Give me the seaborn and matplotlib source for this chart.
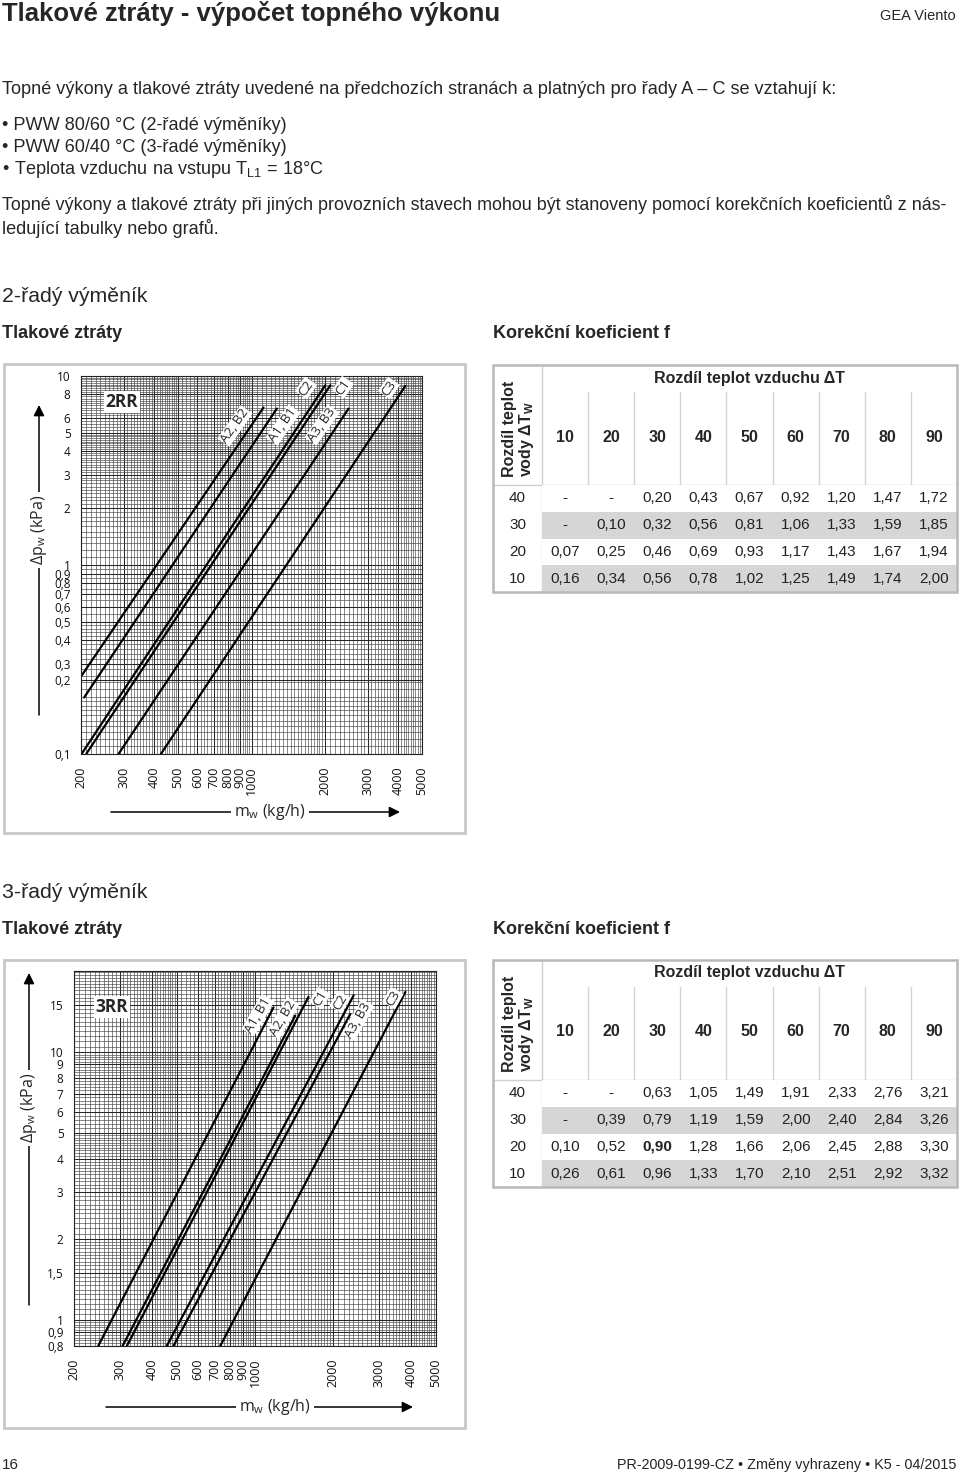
# %% Import libraries
import numpy as np
import pandas as pd
import matplotlib
matplotlib.use('Agg')
import matplotlib.pyplot as plt
import seaborn as sns
from matplotlib.colors import ListedColormap
from matplotlib.patches import Rectangle
from matplotlib.ticker import NullFormatter

sns.set_theme(style='white')
plt.rcParams['font.family'] = ['Liberation Sans', 'DejaVu Sans']

# %% Data
# pressure drop lines, 2-row exchanger (start / end point of each straight line)
curves_2rr = ['A2, B2', 'A1, B1', 'C2', 'C1', 'A3, B3', 'C3']
mw_start_2rr = [200, 206, 201, 210, 285, 425]
mw_end_2rr = [1120, 1271, 2006, 2104, 2502, 4272]
dp_start_2rr = [0.257, 0.199, 0.1, 0.1, 0.1, 0.1]
dp_end_2rr = [6.81, 6.73, 8.93, 8.93, 6.73, 8.86]

# pressure drop lines, 3-row exchanger
curves_3rr = ['A1, B1', 'A2, B2', 'C1', 'C2', 'A3, B3', 'C3']
mw_start_3rr = [248, 308, 320, 456, 484, 734]
mw_end_3rr = [1179, 1430, 1610, 2404, 2334, 3809]
dp_start_3rr = [0.8, 0.8, 0.8, 0.8, 0.8, 0.8]
dp_end_3rr = [14.7, 13.7, 16.1, 16.3, 13.9, 16.8]

x_ticks = [200, 300, 400, 500, 600, 700, 800, 900, 1000, 2000, 3000, 4000, 5000]
x_labels = [str(v) for v in x_ticks]
y_ticks_2rr = [0.1, 0.245, 0.3, 0.4, 0.5, 0.6, 0.7, 0.8, 0.9, 1, 2, 3, 4, 5, 6, 8, 10]
y_labels_2rr = ['0,1', '0,2', '0,3', '0,4', '0,5', '0,6', '0,7', '0,8', '0,9',
                '1', '2', '3', '4', '5', '6', '8', '10']
y_ticks_3rr = [0.8, 0.9, 1, 1.5, 2, 3, 4, 5, 6, 7, 8, 9, 10, 15]
y_labels_3rr = ['0,8', '0,9', '1', '1,5', '2', '3', '4', '5', '6', '7', '8', '9', '10', '15']

# correction factor tables
dT_air = ['10', '20', '30', '40', '50', '60', '70', '80', '90']
dT_water = ['40', '30', '20', '10']
f_2rr = [['-', '-', '0,20', '0,43', '0,67', '0,92', '1,20', '1,47', '1,72'],
         ['-', '0,10', '0,32', '0,56', '0,81', '1,06', '1,33', '1,59', '1,85'],
         ['0,07', '0,25', '0,46', '0,69', '0,93', '1,17', '1,43', '1,67', '1,94'],
         ['0,16', '0,34', '0,56', '0,78', '1,02', '1,25', '1,49', '1,74', '2,00']]
f_3rr = [['-', '-', '0,63', '1,05', '1,49', '1,91', '2,33', '2,76', '3,21'],
         ['-', '0,39', '0,79', '1,19', '1,59', '2,00', '2,40', '2,84', '3,26'],
         ['0,10', '0,52', '0,90', '1,28', '1,66', '2,06', '2,45', '2,88', '3,30'],
         ['0,26', '0,61', '0,96', '1,33', '1,70', '2,10', '2,51', '2,92', '3,32']]

# %% Page setup (pixel coordinates, y downwards)
W, H = 960, 1477
fig = plt.figure(figsize=(W / 100, H / 100), dpi=100)
page = fig.add_axes([0, 0, 1, 1])
page.set_xlim(0, W)
page.set_ylim(H, 0)
page.axis('off')


def fig_box(x0, y0, x1, y1):
    return [x0 / W, 1 - y1 / H, (x1 - x0) / W, (y1 - y0) / H]


def txt(x, y, s, **kw):
    kw.setdefault('va', 'center')
    page.text(x, y, s, **kw)


def log_grid(pieces):
    return np.concatenate([np.arange(a, b, s) for a, b, s in pieces])


x_grid = log_grid([(200, 500, 10), (500, 1000, 20), (1000, 2000, 50), (2000, 5001, 100)])


def draw_chart(box, names, x0, x1, y0, y1, ylim, yticks, ylabels, ygrid,
               tag, tag_xy, label_xy, rot, ylab, xlab):
    frame, plot = box
    fig.add_artist(Rectangle((frame[0], frame[1]), frame[2] - frame[0], frame[3] - frame[1],
                             fill=False, ec='#c8c8c8', lw=2, transform=page.transData, zorder=0.5))
    ax = fig.add_axes(fig_box(*plot))
    rows = []
    for n, a, b, c, d in zip(names, x0, x1, y0, y1):
        rows += [(n, a, c), (n, b, d)]
    df = pd.DataFrame(rows, columns=['curve', 'mw', 'dp'])
    ax.set_xscale('log')
    ax.set_yscale('log')
    sns.lineplot(data=df, x='mw', y='dp', units='curve', estimator=None,
                 color='black', linewidth=1.6, ax=ax, legend=False)
    ax.set_xlim(200, 5000)
    ax.set_ylim(*ylim)
    ax.set_xticks(x_grid, minor=True)
    ax.set_yticks(ygrid, minor=True)
    ax.xaxis.set_minor_formatter(NullFormatter())
    ax.yaxis.set_minor_formatter(NullFormatter())
    ax.set_xticks(x_ticks, labels=x_labels)
    ax.set_yticks(yticks, labels=ylabels)
    ax.grid(which='minor', color='#444444', lw=0.45)
    ax.grid(which='major', color='#262626', lw=0.75)
    ax.tick_params(which='minor', length=0)
    ax.tick_params(which='major', length=6, width=0.8, color='#222', direction='out',
                   labelsize=8.5, pad=1.5)
    ax.tick_params(axis='x', labelrotation=90, labelsize=9, pad=3)
    for lab in ax.get_xticklabels() + ax.get_yticklabels():
        lab.set_family('Open Sans')
        lab.set_color('#111')
    for s in ax.spines.values():
        s.set_color('#222')
        s.set_linewidth(0.8)
    ax.set_xlabel('')
    ax.set_ylabel('')

    fig.text(tag_xy[0], tag_xy[1], tag, transform=page.transData, family='Open Sans',
             weight='bold', size=12.5, ha='center', va='center',
             bbox=dict(fc='white', ec='none', pad=1.5))
    for n, (lx, ly) in zip(names, label_xy):
        fig.text(lx, ly, n, transform=page.transData, family='Open Sans', size=9.5,
                 rotation=rot, ha='center', va='center',
                 bbox=dict(fc='white', ec='none', pad=0.6))

    # axis titles with arrows
    (ax_x, ay0, ay1, ay_mid), (bx0, bx1, by, bx_mid) = ylab, xlab
    arrow = dict(arrowstyle='-|>', color='black', lw=1.1, mutation_scale=16,
                 shrinkA=0, shrinkB=0)
    page.annotate('', xy=(ax_x, ay1), xytext=(ax_x, ay0), arrowprops=arrow)
    page.annotate('', xy=(bx1, by), xytext=(bx0, by), arrowprops=arrow)
    page.text(ax_x, ay_mid, r'$\mathregular{\Delta p_w}$ (kPa)', rotation=90, ha='center',
              va='center', family='Open Sans', size=11.5, zorder=6,
              bbox=dict(fc='white', ec='none', pad=2))
    page.text(bx_mid, by, r'$\mathregular{m_w}$ (kg/h)', ha='center', va='center',
              family='Open Sans', size=11.5, zorder=6,
              bbox=dict(fc='white', ec='none', pad=2))
    return ax


def draw_table(top, values, bold_cell=None):
    L, R, c0 = 493, 957, 542
    hdr, bot = top + 120, top + 227
    colw = (R - c0) / 9
    fig.add_artist(Rectangle((L, top), R - L, bot - top, fill=False, ec='#b8b8b8', lw=1.8,
                             transform=page.transData, zorder=5))
    page.plot([c0, c0], [top, bot], color='#cfcfcf', lw=1)
    page.plot([L, R], [hdr, hdr], color='#cfcfcf', lw=1)
    for i in range(1, 9):
        xx = c0 + i * colw
        page.plot([xx, xx], [top + 27, hdr], color='#d2d2d2', lw=1)
    txt((c0 + R) / 2, top + 13, 'Rozdíl teplot vzduchu ΔT', ha='center', weight='bold', size=11.5)
    for i, lab in enumerate(dT_air):
        txt(c0 + (i + 0.5) * colw, top + 72, lab, ha='center', weight='bold', size=11.5)
    page.text(519, top + 112, 'Rozdíl teplot\nvody $\\mathregular{\\Delta T_W}$', rotation=90,
              ha='center', va='bottom', weight='bold', size=11.5, multialignment='left',
              linespacing=1.0)
    rh = (bot - hdr) / 4
    for j, lab in enumerate(dT_water):
        txt((L + c0) / 2, hdr + (j + 0.5) * rh, lab, ha='center', size=11, color='#222')

    shade = np.repeat([[0], [1], [0], [1]], 9, axis=1)
    hx = fig.add_axes(fig_box(c0, hdr, R, bot))
    sns.heatmap(shade, ax=hx, cmap=ListedColormap(['white', '#d6d6d6']), cbar=False,
                annot=np.array(values), fmt='', linewidths=0,
                xticklabels=False, yticklabels=False,
                annot_kws=dict(size=11, color='#222'))
    if bold_cell is not None:
        r, c = bold_cell
        hx.texts[r * 9 + c].set_fontweight('bold')


# %% Text blocks
body = 13.1
txt(2, 13, 'Tlakové ztráty - výpočet topného výkonu', weight='bold', size=18.5)
txt(956, 16, 'GEA Viento', ha='right', size=10.5)
txt(2, 90, 'Topné výkony a tlakové ztráty uvedené na předchozích stranách a platných pro řady A – C se vztahují k:', size=body)
txt(2, 126, '• PWW 80/60 °C (2-řadé výměníky)', size=body)
txt(2, 148, '• PWW 60/40 °C (3-řadé výměníky)', size=body)
txt(2, 170, '•', size=body)
txt(14, 170, r'Teplota vzduchu na vstupu $\mathregular{T_{L1}}$ = 18°C', size=body)
txt(2, 204, 'Topné výkony a tlakové ztráty při jiných provozních stavech mohou být stanoveny pomocí korekčních koeficientů z nás-', size=12.85)
txt(2, 228, 'ledující tabulky nebo grafů.', size=body)

txt(2, 297, '2-řadý výměník', size=15.3)
txt(2, 333, 'Tlakové ztráty', weight='bold', size=13)
txt(493, 333, 'Korekční koeficient f', weight='bold', size=13)
txt(2, 893, '3-řadý výměník', size=15.3)
txt(2, 930, 'Tlakové ztráty', weight='bold', size=13)
txt(493, 930, 'Korekční koeficient f', weight='bold', size=13)

txt(2, 1465, '16', size=11)
txt(956, 1465, 'PR-2009-0199-CZ • Změny vyhrazeny • K5 - 04/2015', ha='right', size=10.4)

# %% Charts
draw_chart(((4, 364, 465, 833), (81, 376, 422, 754)),
           curves_2rr, mw_start_2rr, mw_end_2rr, dp_start_2rr, dp_end_2rr,
           (0.1, 10), y_ticks_2rr, y_labels_2rr,
           log_grid([(0.1, 0.2, 0.01), (0.2, 0.5, 0.02), (0.5, 1, 0.05),
                     (1, 5, 0.1), (5, 10.01, 0.2)]),
           '2RR', (122, 402),
           [(235, 426), (283, 425), (306, 388), (343, 387), (322, 425), (389, 388)], 55,
           (39, 715, 405, 530), (111, 400, 812, 270))

draw_chart(((4, 960, 465, 1428), (74, 971, 436, 1346)),
           curves_3rr, mw_start_3rr, mw_end_3rr, dp_start_3rr, dp_end_3rr,
           (0.8, 20.1), y_ticks_3rr, y_labels_3rr,
           log_grid([(0.8, 1, 0.02), (1, 2, 0.05), (2, 5, 0.1), (5, 10, 0.2), (10, 20.1, 0.5)]),
           '3RR', (112, 1007),
           [(258, 1015), (283, 1018), (320, 998), (340, 1002), (358, 1020), (393, 998)], 60,
           (29, 1305, 973, 1108), (106, 413, 1407, 275))

# %% Tables
draw_table(365, f_2rr)
draw_table(960, f_3rr, bold_cell=(2, 2))

fig.savefig('out.png', dpi=100)
